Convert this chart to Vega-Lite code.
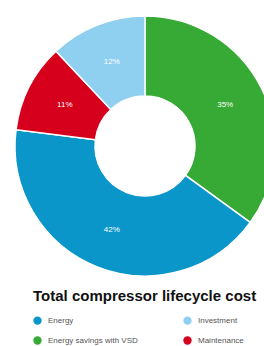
{
  "$schema": "https://vega.github.io/schema/vega-lite/v6.json",
  "width": 290,
  "height": 292,
  "autosize": {"type": "pad"},
  "padding": 0,
  "background": "white",
  "config": {"view": {"stroke": null}, "font": "Liberation Sans"},
  "data": {
    "values": [
      {"category": "Energy savings with VSD", "value": 35, "label": "35%", "order": 1},
      {"category": "Energy", "value": 42, "label": "42%", "order": 2},
      {"category": "Maintenance", "value": 11, "label": "11%", "order": 3},
      {"category": "Investment", "value": 12, "label": "12%", "order": 4}
    ]
  },
  "encoding": {
    "theta": {"field": "value", "type": "quantitative", "stack": true},
    "order": {"field": "order", "type": "quantitative"}
  },
  "layer": [
    {
      "mark": {"type": "arc", "innerRadius": 50, "outerRadius": 130, "stroke": "white", "strokeWidth": 1.5},
      "encoding": {
        "color": {
          "field": "category",
          "type": "nominal",
          "scale": {
            "domain": ["Energy", "Energy savings with VSD", "Investment", "Maintenance"],
            "range": ["#0a96c9", "#37a935", "#8fcff0", "#d6001c"]
          },
          "legend": {
            "orient": "none",
            "legendX": 33,
            "legendY": 289,
            "title": "Total compressor lifecycle cost",
            "titleLimit": 400,
            "titleFontSize": 15,
            "titleFontWeight": "bold",
            "titleColor": "#111111",
            "titlePadding": 12,
            "columns": 2,
            "columnPadding": 45,
            "rowPadding": 11,
            "symbolType": "circle",
            "symbolSize": 70,
            "symbolStrokeWidth": 0,
            "labelFontSize": 8,
            "labelColor": "#555555",
            "labelOffset": 6
          }
        }
      }
    },
    {
      "mark": {"type": "text", "radius": 90, "fontSize": 8, "color": "white"},
      "encoding": {
        "text": {"field": "label"}
      }
    }
  ]
}
